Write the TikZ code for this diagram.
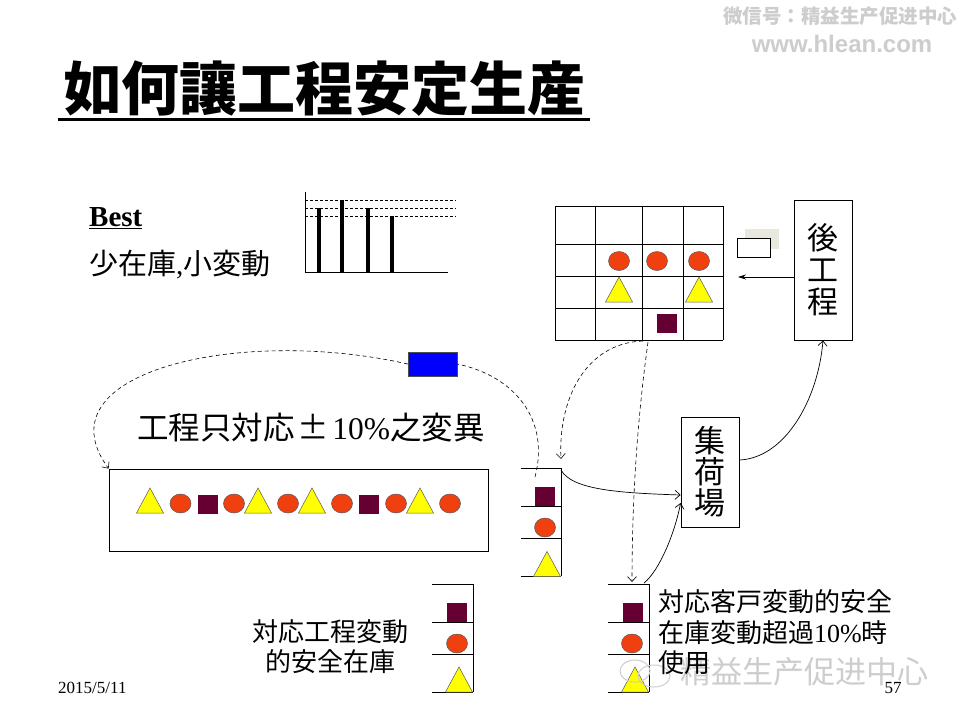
\documentclass[tikz,border=0pt]{standalone}
\usepackage{fontspec}
\setmainfont{Liberation Serif}
\newfontfamily\cjk{Noto Sans CJK JP}
\newfontfamily\wmsans{Liberation Sans}
\usetikzlibrary{arrows.meta}
\definecolor{ballred}{RGB}{240,64,16}
\definecolor{triyel}{RGB}{255,255,0}
\definecolor{sqmar}{RGB}{102,0,51}
\definecolor{wmgray}{RGB}{205,205,205}
\definecolor{shadowc}{RGB}{232,232,222}
\tikzset{
  ball/.pic={\draw[fill=ballred,draw=black!65,line width=0.5pt] (0,0) ellipse [x radius=10.5pt,y radius=9.5pt];},
  tri/.pic={\draw[fill=triyel,draw=black!65,line width=0.5pt,line join=miter] (-13.5,12.5) -- (13.5,12.5) -- (0,-12.5) -- cycle;},
  sq/.pic={\fill[sqmar] (-10,-9.5) rectangle (10,9.5);},
  box/.style={draw,line width=0.8pt,inner sep=0pt},
  dsh/.style={line width=0.6pt,dash pattern=on 4pt off 3pt},
  barb/.style={-{Straight Barb[length=5pt,width=9pt]}},
  conn/.style={line width=0.7pt},
  cjkt/.style={font=\cjk\fontsize{#1}{#1}\selectfont,inner sep=0pt},
}
\begin{document}
\begin{tikzpicture}[x=1pt,y=-1pt]
\useasboundingbox[fill=white] (0,0) rectangle (960,720);

% watermarks (top right)
\node[font=\cjk\bfseries\fontsize{19.5}{22}\selectfont,text=wmgray,inner sep=0pt] (wm1) at (840,16) {微信号：精益生产促进中心};
\node[font=\wmsans\bfseries\fontsize{24}{26}\selectfont,text=wmgray,inner sep=0pt] (wm2) at (842,44) {www.hlean.com};

% title
\node[font=\cjk\bfseries\fontsize{58}{62}\selectfont,inner sep=0pt] (title) at (324,89) {如何讓工程安定生産};
\draw[line width=3pt] (58,119) -- (590,119);

% Best
\node[anchor=west,font=\bfseries\fontsize{29}{32}\selectfont,inner sep=0pt] (best) at (89,218) {\underline{Best}};
\node[anchor=west,cjkt=29] (few) at (89,265) {少在庫{\rmfamily,}小変動};

% bar chart
\draw[line width=0.8pt] (305,192) -- (305,272) -- (448,272);
\foreach \y in {200,208,216} \draw[line width=0.6pt,dash pattern=on 3pt off 2pt] (305,\y) -- (456,\y);
\foreach \x/\t in {319/208,342/200,368/208,392/216} \draw[line width=4pt] (\x,272) -- (\x,\t);

% grid
\foreach \x in {555,595,642,683,723} \draw[line width=0.8pt] (\x,206) -- (\x,340);
\foreach \y in {206,244,276,308,340} \draw[line width=0.8pt] (555,\y) -- (723,\y);
\foreach \x in {619,657,699} \pic at (\x,261) {ball};
\foreach \x in {619,699} \pic at (\x,289.5) {tri};
\pic at (666.5,323.5) {sq};

% kanban
\node[fill=shadowc,minimum width=34pt,minimum height=20pt,inner sep=0pt] (kbs) at (762,239) {};
\node[box,fill=white,minimum width=33pt,minimum height=19pt] (kb) at (753.5,247.5) {};

% boxes
\node[box,minimum width=58pt,minimum height=140pt,align=center,font=\cjk\fontsize{31}{32}\selectfont] (kou) at (823,270) {後\\工\\程};
\node[box,minimum width=58pt,minimum height=110pt,align=center,font=\cjk\fontsize{31}{31}\selectfont] (shu) at (710,472) {集\\荷\\場};
\coordinate (kbIn) at (738,277);
\draw[line width=0.7pt,-{Stealth[length=8pt,width=5pt]}] (kou.west |- kbIn) -- (kbIn);

% long box
\node[box,minimum width=379pt,minimum height=82pt] (lb) at (298.5,510) {};
\foreach \x in {150,258,312,420} \pic at (\x,500.5) {tri};
\foreach \x in {180.5,234,288,342,396,450} \pic at (\x,503.5) {ball};
\foreach \x in {207.5,369} \pic at (\x,504) {sq};

\node[cjkt=31.5] (var) at (311,428) {工程只対応\kern3pt±\kern3pt{\rmfamily 10\%}之変異};

% middle stack
\coordinate (ms) at (561,468);
\draw[line width=0.8pt] (ms) -- (561,576);
\foreach \y in {468,506,538,576} \draw[line width=0.8pt] (521,\y) -- (561,\y);
\pic at (545,496.5) {sq};
\pic at (545,527.5) {ball};
\pic at (547,564) {tri};

% bottom-left stack
\draw[line width=0.8pt] (473,584) -- (473,692);
\foreach \y in {584,622,654,692} \draw[line width=0.8pt] (432,\y) -- (473,\y);
\pic at (456.5,612.5) {sq};
\pic at (457,643.5) {ball};
\pic at (459,679.5) {tri};

% bottom-right stack
\draw[line width=0.8pt] (649,584) -- (649,692);
\foreach \y in {584,622,654,692} \draw[line width=0.8pt] (608,\y) -- (649,\y);
\pic at (632.5,612.5) {sq};
\pic at (632,643.5) {ball};
\pic at (635,679.5) {tri};

% bottom watermark
\draw[wmgray,line width=1pt] (635,671) ellipse [x radius=15pt,y radius=11pt];
\draw[wmgray,line width=1pt] (654,676) ellipse [x radius=16pt,y radius=11pt];
\node[font=\cjk\fontsize{31}{34}\selectfont,text=wmgray,inner sep=0pt] (wm3) at (804,672) {精益生产促进中心};

% texts
\node[align=center,inner sep=0pt,font=\cjk\fontsize{26}{30}\selectfont] (safe1) at (330,647) {対応工程変動\\的安全在庫};
\node[anchor=west,align=left,inner sep=0pt,font=\cjk\fontsize{26}{30.5}\selectfont] (safe2) at (658,632.5) {対応客戸変動的安全\\在庫変動超過{\rmfamily 10\%}時\\使用};

\node[anchor=west,font=\fontsize{17}{20}\selectfont,inner sep=0pt] (date) at (58,688) {2015/5/11};
\node[font=\fontsize{17}{20}\selectfont,inner sep=0pt] (pg) at (893,688) {57};

% blue card
\node[fill=blue,draw=black!70,line width=0.5pt,minimum width=49pt,minimum height=24pt,inner sep=0pt] (blue) at (432.5,364) {};

% connectors
\coordinate (dA) at (535,477);
\draw[dsh] (dA) .. controls (550,420) and (515,376) .. (blue.east);
\draw[dsh,barb] (blue.west) .. controls (240,326) and (38,372) .. (lb.north west);
\coordinate (gC) at (643,341);
\coordinate (msIn) at (561,459);
\draw[dsh,barb] (gC) .. controls (585,343) and (558,400) .. (msIn);
\coordinate (gD) at (648,342);
\coordinate (brIn) at (632,582);
\draw[dsh,barb] (gD) .. controls (640,400) and (632,480) .. (brIn);
\coordinate (msOut) at (561,470);
\draw[conn,barb] (msOut) .. controls (572,490) and (620,493) .. ([yshift=-23pt]shu.west);
\coordinate (brOut) at (644,583);
\draw[conn,barb] (brOut) .. controls (660,570) and (675,532) .. ([yshift=-31pt]shu.west);
\draw[conn,barb] ([yshift=12pt]shu.east) .. controls (785,458) and (818,400) .. (kou.south);
\end{tikzpicture}
\end{document}
